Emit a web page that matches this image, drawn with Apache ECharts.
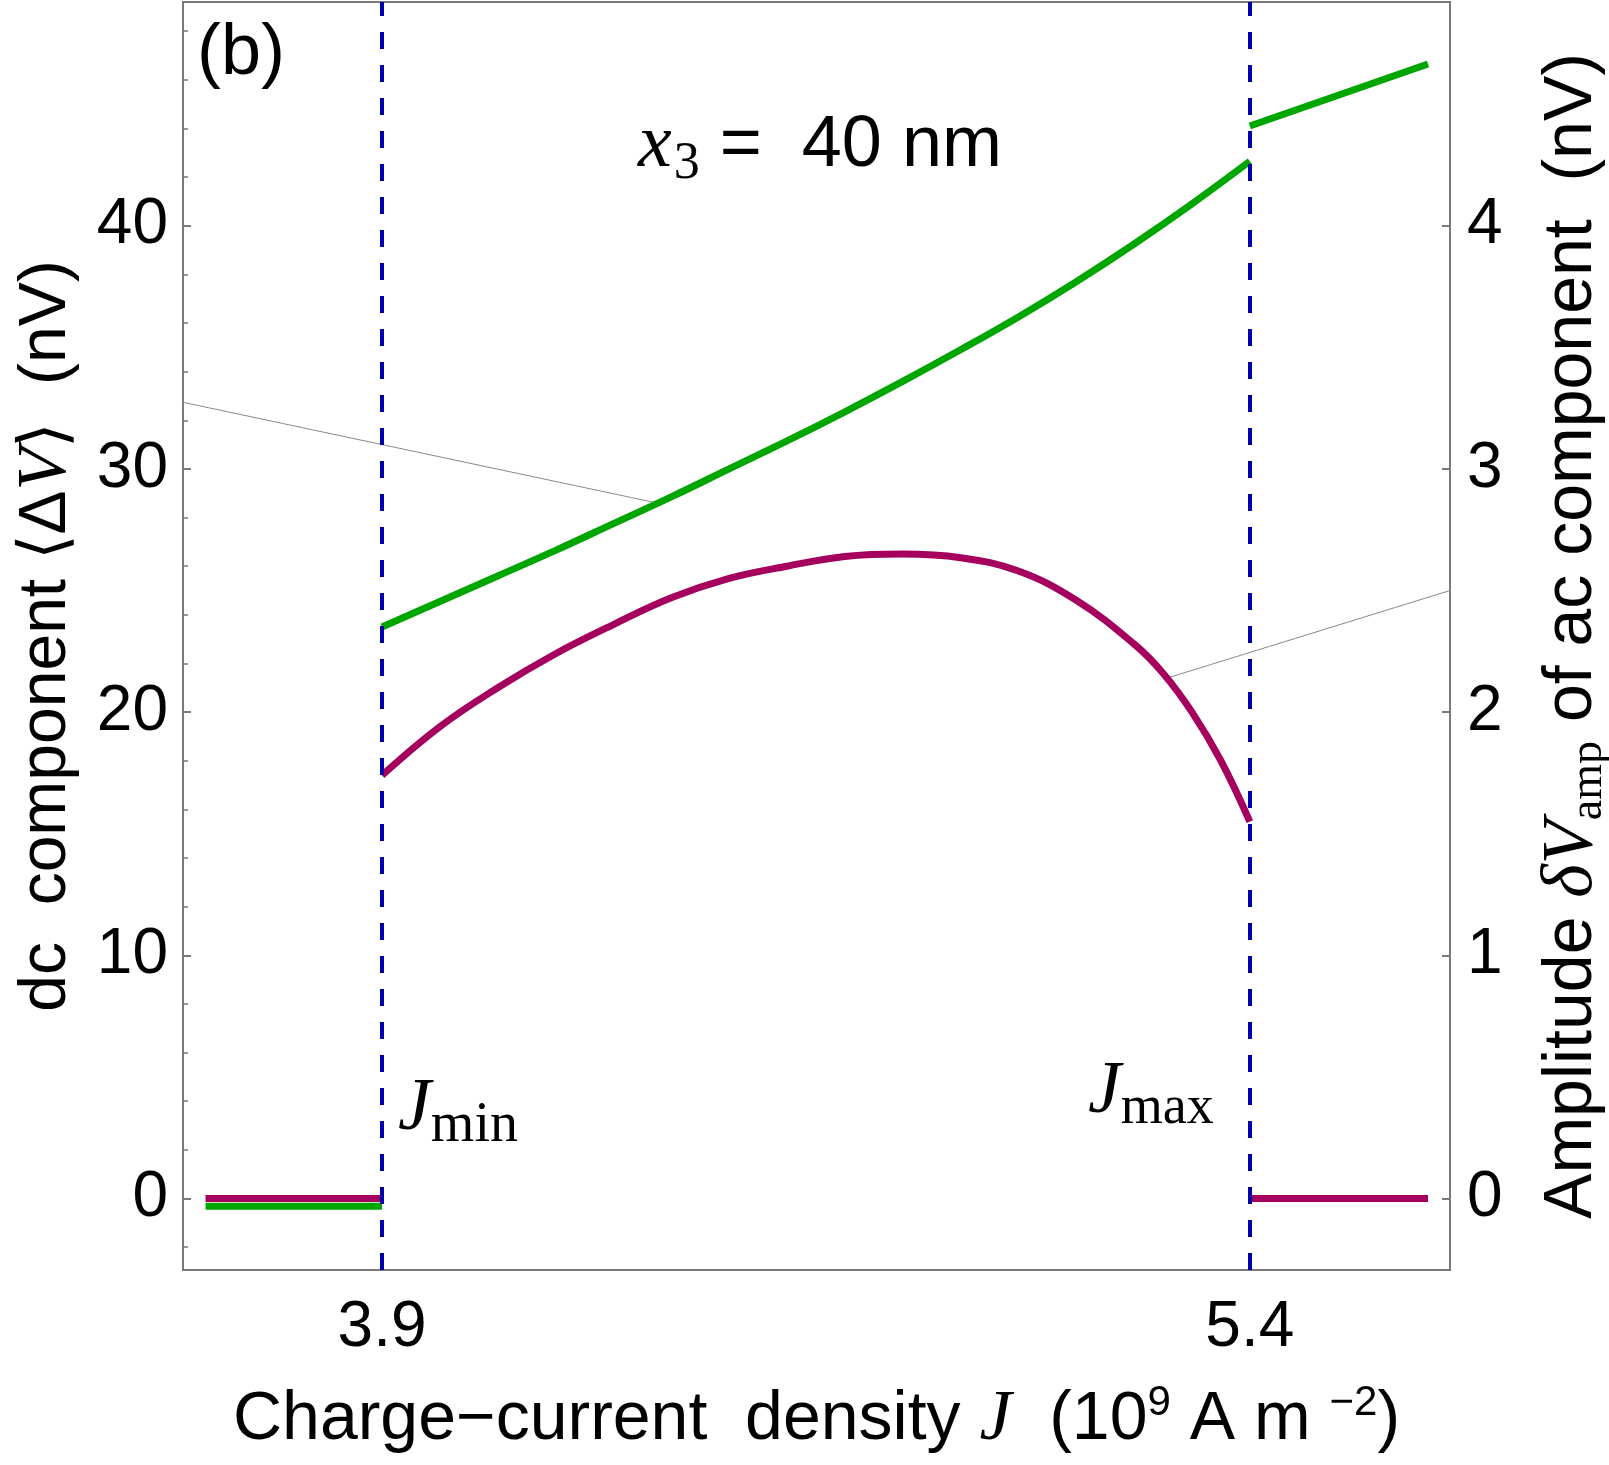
<!DOCTYPE html>
<html>
<head>
<meta charset="utf-8">
<script src="https://cdn.jsdelivr.net/npm/echarts@6/dist/echarts.min.js"></script>
<style>
  html, body { margin: 0; padding: 0; background: #fff; }
  #main { width: 1609px; height: 1465px; }
</style>
</head>
<body>
<div id="main"></div>
<script>
'use strict'
// current density J (10^9 A m^-2)
var jLow = [3.595, 3.9];
var jMid = [3.9, 4.0, 4.1, 4.2, 4.3, 4.4, 4.5, 4.6, 4.7, 4.8, 4.9, 5.0, 5.1, 5.2, 5.3, 5.4];
var jAcMid = [3.9, 4.0, 4.1, 4.2, 4.3, 4.4, 4.5, 4.6, 4.7, 4.8, 4.9, 5.0, 5.1, 5.2, 5.25, 5.3, 5.35, 5.4];
var jHigh = [5.4, 5.708];

// dc component <dV> (nV), left axis
var dcLow = [-0.32, -0.32];
var dcMid = [23.5, 24.55, 25.6, 26.65, 27.75, 28.85, 30.0, 31.15, 32.35, 33.6, 34.9, 36.25, 37.7, 39.25, 40.9, 42.65];
var dcHigh = [44.1, 46.65];

// amplitude of ac component (nV), right axis
var acLow = [0, 0];
var acMid = [1.74, 1.94, 2.10, 2.24, 2.36, 2.47, 2.55, 2.60, 2.64, 2.65, 2.635, 2.58, 2.46, 2.28, 2.16, 2.0, 1.8, 1.55];
var acHigh = [0, 0];

// thin pointer lines (J, left-axis value)
var pointerDc = [[3.556, 32.74], [4.375, 28.6]];
var pointerAc = [[5.257, 21.4], [5.746, 25.0]];

var jLimits = [3.9, 5.4];
var xTicks = [3.9, 5.4];
var leftTicks = [0, 10, 20, 30, 40];
var leftMinor = [-2, 2, 4, 6, 8, 12, 14, 16, 18, 22, 24, 26, 28, 32, 34, 36, 38, 42, 44, 46, 48];
var rightTicks = [0, 1, 2, 3, 4];

var xMin = 3.556, xMax = 5.746;
var yMin = -2.94, yMax = 49.2;

function zip(a, b) {
    return a.map(function (v, i) { return [v, b[i]]; });
}

var SANS = "'Liberation Sans', Arial, Helvetica, sans-serif";
var SERIF = "'Liberation Serif', 'Times New Roman', serif";
var AXIS = '#7a7a7a';
var GREEN = '#00a600';
var MAGENTA = '#a6005e';

function titleRich(size) {
    return {
        a: {fontFamily: SANS, fontSize: size, color: '#000', lineHeight: 80, verticalAlign: 'middle'},
        i: {fontFamily: SERIF, fontStyle: 'italic', fontSize: size + 4, color: '#000', lineHeight: 80, verticalAlign: 'middle'},
        sup: {fontFamily: SANS, fontSize: 42, color: '#000', lineHeight: 42, padding: [0, 0, 34, 0], verticalAlign: 'middle'},
        sub: {fontFamily: SERIF, fontSize: 46, color: '#000', lineHeight: 46, padding: [34, 0, 0, 0], verticalAlign: 'middle'}
    };
}

var myChart = echarts.init(document.getElementById('main'), null, {renderer: 'canvas'});

function lineSeries(name, data, color, yIdx, width, z) {
    return {
        name: name,
        type: 'line',
        data: data,
        yAxisIndex: yIdx,
        showSymbol: false,
        symbol: 'none',
        smooth: 0.4,
        lineStyle: {color: color, width: width},
        z: z,
        silent: true
    };
}

myChart.setOption({
    animation: false,
    backgroundColor: '#fff',
    grid: {
        left: 183, right: 159, top: 2, bottom: 195,
        show: true, borderColor: AXIS, borderWidth: 2,
        outerBoundsMode: 'none'
    },
    xAxis: {
        type: 'value', min: xMin, max: xMax,
        name: '{a|Charge−current  density }{i|J}{a|  (10}{sup|9}{a| A m }{sup|−2}{a|)}',
        nameLocation: 'middle', nameGap: 110,
        nameTextStyle: {rich: titleRich(68)},
        axisLine: {show: true, onZero: false, lineStyle: {color: AXIS, width: 2}},
        axisTick: {show: true, inside: true, length: 8, customValues: xTicks, lineStyle: {color: AXIS, width: 2}},
        axisLabel: {
            customValues: xTicks, margin: 26,
            fontFamily: SANS, fontSize: 64, color: '#000',
            formatter: function (v) { return v.toFixed(1); }
        },
        splitLine: {show: false}
    },
    yAxis: [
        {
            type: 'value', position: 'left', min: yMin, max: yMax,
            name: '{a|dc  component }{a|⟨Δ}{i|V}{a|⟩  (nV)}',
            nameLocation: 'middle', nameRotate: 90, nameGap: 96,
            nameTextStyle: {rich: titleRich(66)},
            axisLine: {show: true, onZero: false, lineStyle: {color: AXIS, width: 2}},
            axisTick: {show: true, inside: true, length: 8, customValues: leftTicks, lineStyle: {color: AXIS, width: 2}},
            axisLabel: {customValues: leftTicks, margin: 15, fontFamily: SANS, fontSize: 64, color: '#000'},
            splitLine: {show: false}
        },
        {
            type: 'value', position: 'left', min: yMin, max: yMax,
            axisLine: {show: false},
            axisTick: {show: true, inside: true, length: 5, customValues: leftMinor, lineStyle: {color: AXIS, width: 1.5}},
            axisLabel: {show: false},
            splitLine: {show: false}
        },
        {
            type: 'value', position: 'right', min: yMin / 10, max: yMax / 10,
            name: '{a|Amplitude }{i|δV}{sub|amp}{a| of ac component  (nV)}',
            nameLocation: 'middle', nameRotate: 90, nameGap: 82,
            nameTextStyle: {rich: titleRich(68)},
            axisLine: {show: true, onZero: false, lineStyle: {color: AXIS, width: 2}},
            axisTick: {show: true, inside: true, length: 8, customValues: rightTicks, lineStyle: {color: AXIS, width: 2}},
            axisLabel: {customValues: rightTicks, margin: 17, fontFamily: SANS, fontSize: 64, color: '#000'},
            splitLine: {show: false}
        }
    ],
    series: [
        {
            name: 'limits', type: 'line', data: [], z: 1, silent: true,
            markLine: {
                silent: true, symbol: ['none', 'none'],
                label: {show: false},
                lineStyle: {color: '#0000aa', width: 4, type: [17, 16]},
                data: jLimits.map(function (v) { return {xAxis: v}; })
            }
        },
        lineSeries('pointerDc', pointerDc, '#888', 0, 1, 2),
        lineSeries('pointerAc', pointerAc, '#888', 0, 1, 2),
        lineSeries('dcLow', zip(jLow, dcLow), GREEN, 0, 7, 3),
        lineSeries('dcMid', zip(jMid, dcMid), GREEN, 0, 7, 3),
        lineSeries('dcHigh', zip(jHigh, dcHigh), GREEN, 0, 7, 3),
        lineSeries('acLow', zip(jLow, acLow), MAGENTA, 2, 7, 4),
        lineSeries('acMid', zip(jAcMid, acMid), MAGENTA, 2, 7, 4),
        lineSeries('acHigh', zip(jHigh, acHigh), MAGENTA, 2, 7, 4)
    ],
    graphic: [
        {
            type: 'text', left: 197, top: 18, z: 10,
            style: {text: '(b)', fontFamily: SANS, fontSize: 72, fill: '#000'}
        },
        {
            type: 'text', left: 638, top: 102, z: 10,
            style: {
                text: '{i|x}{s|3}{n| =  40 nm}',
                rich: {
                    i: {fontFamily: SERIF, fontStyle: 'italic', fontSize: 76, lineHeight: 86, verticalAlign: 'middle', fill: '#000'},
                    s: {fontFamily: SERIF, fontSize: 52, lineHeight: 52, padding: [36, 0, 0, 2], verticalAlign: 'middle', fill: '#000'},
                    n: {fontFamily: SANS, fontSize: 72, lineHeight: 86, verticalAlign: 'middle', fill: '#000'}
                }
            }
        },
        {
            type: 'text', left: 398, top: 1066, z: 10,
            style: {
                text: '{j|J}{s|min}',
                rich: {
                    j: {fontFamily: SERIF, fontStyle: 'italic', fontSize: 74, lineHeight: 84, verticalAlign: 'middle', fill: '#000'},
                    s: {fontFamily: SERIF, fontSize: 56, lineHeight: 56, padding: [32, 0, 0, 0], verticalAlign: 'middle', fill: '#000'}
                }
            }
        },
        {
            type: 'text', left: 1088, top: 1050, z: 10,
            style: {
                text: '{j|J}{s|max}',
                rich: {
                    j: {fontFamily: SERIF, fontStyle: 'italic', fontSize: 74, lineHeight: 84, verticalAlign: 'middle', fill: '#000'},
                    s: {fontFamily: SERIF, fontSize: 54, lineHeight: 54, padding: [32, 0, 0, 0], verticalAlign: 'middle', fill: '#000'}
                }
            }
        }
    ]
});
</script>
</body>
</html>
